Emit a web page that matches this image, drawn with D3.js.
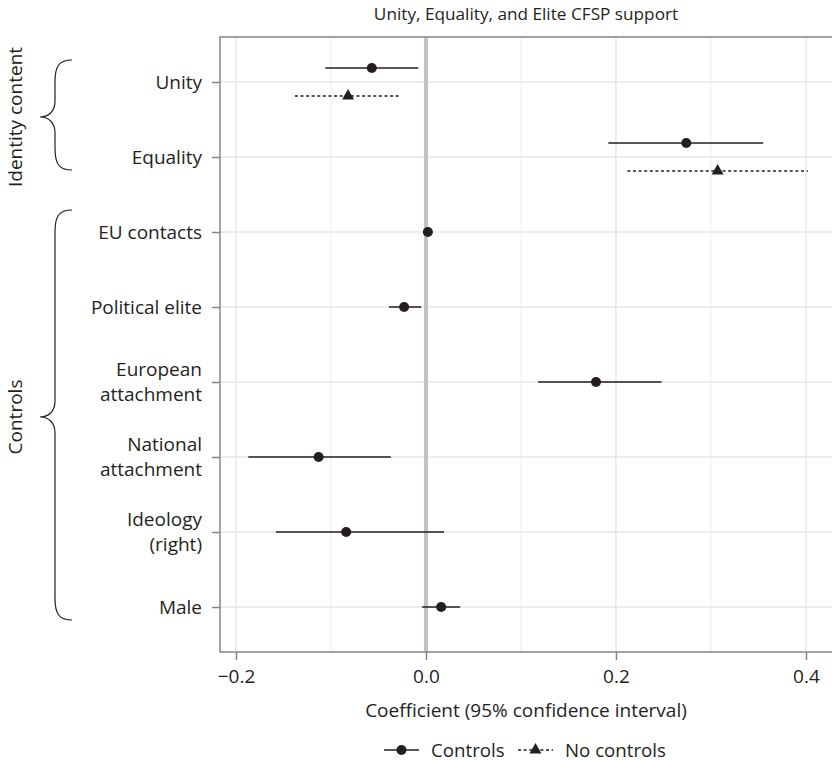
<!DOCTYPE html>
<html>
<head>
<meta charset="utf-8">
<script src="https://cdn.jsdelivr.net/npm/d3@7"></script>
<style>
  html, body { margin: 0; padding: 0; background: #fff; }
  svg { display: block; }
  text { font-family: "Open Sans", "Noto Sans", sans-serif; fill: #231f20; }
</style>
</head>
<body>
<script>
// Predictors, top to bottom (multi-line labels split with "|")
const categories = [
  "Unity", "Equality", "EU contacts", "Political elite",
  "European|attachment", "National|attachment", "Ideology|(right)", "Male"
];

// Model with controls: estimate and 95% CI
const controlsEst = [-0.057, 0.274, 0.002, -0.023, 0.179, -0.113, -0.084, 0.016];
const controlsLo  = [-0.106, 0.192, -0.003, -0.039, 0.118, -0.187, -0.158, -0.004];
const controlsHi  = [-0.008, 0.355, 0.007, -0.005, 0.248, -0.037, 0.019, 0.036];

// Model without controls (identity content only)
const noControlsCats = ["Unity", "Equality"];
const noControlsEst = [-0.082, 0.307];
const noControlsLo  = [-0.138, 0.212];
const noControlsHi  = [-0.026, 0.402];

const xTicks = [-0.2, 0.0, 0.2, 0.4];
const xMinor = [-0.1, 0.1, 0.3];
const xTickLabels = ["\u22120.2", "0.0", "0.2", "0.4"];

const groups = [
  { label: "Identity content", from: "Unity", to: "Equality" },
  { label: "Controls", from: "EU contacts", to: "Male" }
];

const W = 832, H = 761;
const panel = { left: 220, right: 832, top: 37, bottom: 652 };
const ink = "#231f20";
const fs = 19;

const svg = d3.select("body").append("svg")
  .attr("width", W).attr("height", H);

const x = d3.scaleLinear().domain([-0.2168, 0.4274]).range([panel.left, panel.right]);
const y = d3.scalePoint().domain(categories).range([panel.top, panel.bottom]).padding(0.6);

const dodge = 14;

// Grid
const grid = svg.append("g");
grid.selectAll("line.minor").data(xMinor).join("line")
  .attr("x1", d => x(d)).attr("x2", d => x(d))
  .attr("y1", panel.top).attr("y2", panel.bottom)
  .attr("stroke", "#efefef").attr("stroke-width", 1.2);
grid.selectAll("line.major").data(xTicks).join("line")
  .attr("x1", d => x(d)).attr("x2", d => x(d))
  .attr("y1", panel.top).attr("y2", panel.bottom)
  .attr("stroke", "#e6e6e6").attr("stroke-width", 1.4);
grid.selectAll("line.h").data(categories).join("line")
  .attr("x1", panel.left).attr("x2", panel.right)
  .attr("y1", d => y(d)).attr("y2", d => y(d))
  .attr("stroke", "#e6e6e6").attr("stroke-width", 1.4);

// Zero reference line
svg.append("line")
  .attr("x1", x(0)).attr("x2", x(0))
  .attr("y1", panel.top).attr("y2", panel.bottom)
  .attr("stroke", "#c2c2c2").attr("stroke-width", 4);

// Panel border (top, left, bottom)
svg.append("path")
  .attr("d", `M${panel.right},${panel.top}H${panel.left}V${panel.bottom}H${panel.right}`)
  .attr("fill", "none").attr("stroke", "#858585").attr("stroke-width", 1.5);

// X axis
const xAxis = d3.axisBottom(x).tickValues(xTicks)
  .tickFormat((d, i) => xTickLabels[i]).tickSize(8).tickPadding(10);
const gx = svg.append("g").attr("transform", `translate(0,${panel.bottom})`).call(xAxis);
gx.select(".domain").remove();
gx.selectAll(".tick line").attr("stroke", "#858585").attr("stroke-width", 1.5);
gx.selectAll(".tick text").attr("font-size", fs).attr("fill", ink)
  .attr("font-family", "\"Open Sans\", sans-serif");

// Y axis
const yAxis = d3.axisLeft(y).tickSize(8).tickFormat("");
const gy = svg.append("g").attr("transform", `translate(${panel.left},0)`).call(yAxis);
gy.select(".domain").remove();
gy.selectAll(".tick line").attr("stroke", "#858585").attr("stroke-width", 1.5);

const yLabels = svg.append("g");
categories.forEach(c => {
  const lines = c.split("|");
  const t = yLabels.append("text")
    .attr("x", panel.left - 18)
    .attr("text-anchor", "end")
    .attr("font-size", fs);
  const lh = 25;
  const y0 = y(c) - (lines.length - 1) * lh / 2;
  lines.forEach((ln, i) => {
    t.append("tspan").attr("x", panel.left - 18).attr("y", y0 + i * lh)
      .attr("dy", "0.35em").text(ln);
  });
});

// Controls: error bars and points
const ctrl = categories.map((c, i) => ({
  cat: c, est: controlsEst[i], lo: controlsLo[i], hi: controlsHi[i],
  off: noControlsCats.includes(c) ? -dodge : 0
}));
const noCtrl = noControlsCats.map((c, i) => ({
  cat: c, est: noControlsEst[i], lo: noControlsLo[i], hi: noControlsHi[i], off: dodge
}));

svg.append("g").selectAll("line").data(ctrl).join("line")
  .attr("x1", d => x(d.lo)).attr("x2", d => x(d.hi))
  .attr("y1", d => y(d.cat) + d.off).attr("y2", d => y(d.cat) + d.off)
  .attr("stroke", ink).attr("stroke-width", 1.4);
svg.append("g").selectAll("circle").data(ctrl).join("circle")
  .attr("cx", d => x(d.est)).attr("cy", d => y(d.cat) + d.off)
  .attr("r", 5).attr("fill", ink);

svg.append("g").selectAll("line").data(noCtrl).join("line")
  .attr("x1", d => x(d.lo)).attr("x2", d => x(d.hi))
  .attr("y1", d => y(d.cat) + d.off).attr("y2", d => y(d.cat) + d.off)
  .attr("stroke", ink).attr("stroke-width", 1.3).attr("stroke-dasharray", "3,2.6");
const tri = d3.symbol().type(d3.symbolTriangle).size(62);
svg.append("g").selectAll("path").data(noCtrl).join("path")
  .attr("d", tri)
  .attr("transform", d => `translate(${x(d.est)},${y(d.cat) + d.off})`)
  .attr("fill", ink);

// Title and axis title
const cx = (panel.left + panel.right) / 2;
svg.append("text").attr("x", cx).attr("y", 20).attr("text-anchor", "middle")
  .attr("font-size", 17.2).text("Unity, Equality, and Elite CFSP support");
svg.append("text").attr("x", cx).attr("y", 717).attr("text-anchor", "middle")
  .attr("font-size", fs).text("Coefficient (95% confidence interval)");

// Legend
const ly = 750;
const lg = svg.append("g");
lg.append("line").attr("x1", 384).attr("x2", 419).attr("y1", ly).attr("y2", ly)
  .attr("stroke", ink).attr("stroke-width", 1.4);
lg.append("circle").attr("cx", 401.5).attr("cy", ly).attr("r", 5).attr("fill", ink);
lg.append("text").attr("x", 431).attr("y", ly).attr("dy", "0.35em")
  .attr("font-size", 18.7).text("Controls");
lg.append("line").attr("x1", 518).attr("x2", 553).attr("y1", ly).attr("y2", ly)
  .attr("stroke", ink).attr("stroke-width", 1.3).attr("stroke-dasharray", "3,2.6");
lg.append("path").attr("d", tri).attr("transform", `translate(535.5,${ly})`).attr("fill", ink);
lg.append("text").attr("x", 565).attr("y", ly).attr("dy", "0.35em")
  .attr("font-size", 18.7).text("No controls");

// Group braces on the left
function bracePath(y0, y1, ym) {
  const xe = 72, xv = 55, xt = 40;
  return `M${xe},${y0} C${xv + 4},${y0} ${xv},${y0 + 6} ${xv},${y0 + 22}` +
    ` L${xv},${ym - 16} C${xv},${ym - 6} ${xv - 6},${ym} ${xt},${ym}` +
    ` C${xv - 6},${ym} ${xv},${ym + 6} ${xv},${ym + 16}` +
    ` L${xv},${y1 - 22} C${xv},${y1 - 6} ${xv + 4},${y1} ${xe},${y1}`;
}
groups.forEach(g => {
  const y0 = y(g.from) - 22, y1 = y(g.to) + 13;
  const ym = (y0 + y1) / 2 + 2;
  svg.append("path").attr("d", bracePath(y0, y1, ym))
    .attr("fill", "none").attr("stroke", ink).attr("stroke-width", 1.2);
  svg.append("text")
    .attr("transform", `translate(15,${ym}) rotate(-90)`)
    .attr("text-anchor", "middle").attr("dy", "0.35em")
    .attr("font-size", fs).text(g.label);
});
</script>
</body>
</html>
